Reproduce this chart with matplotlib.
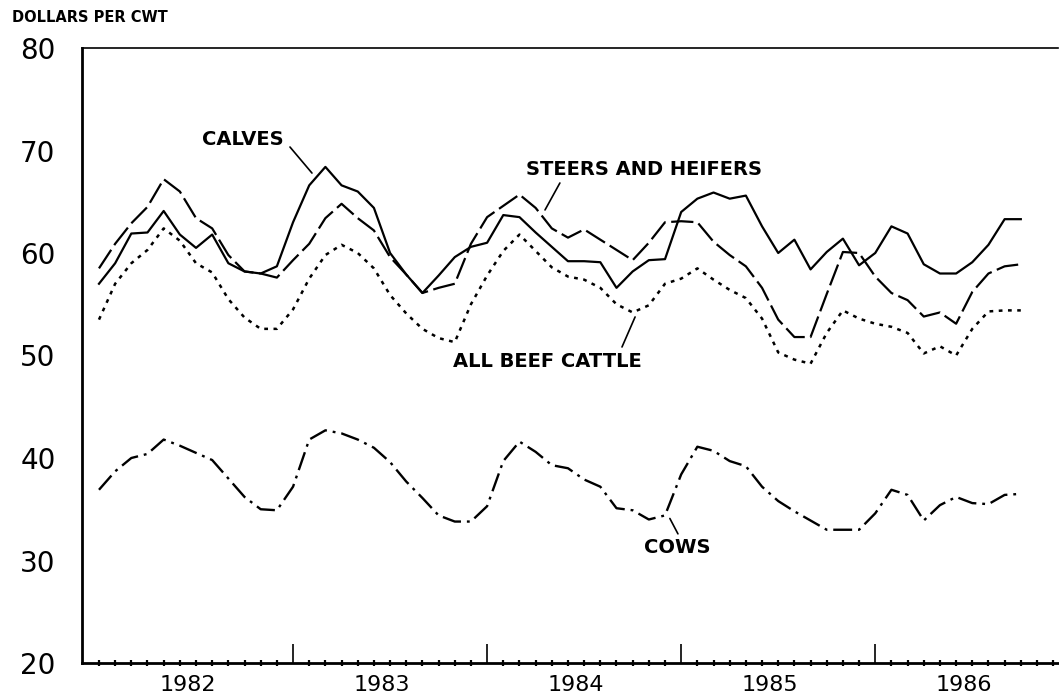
import numpy as np
import matplotlib
matplotlib.use('Agg')
import matplotlib.pyplot as plt

# monthly prices, Jan 1982 - Oct 1986, dollars per cwt
calves = [57.0, 59.0, 61.9, 62.0, 64.1, 61.8, 60.5, 61.8, 59.0, 58.2, 58.0, 58.7,
          63.0, 66.6, 68.4, 66.6, 66.0, 64.4, 60.0, 57.9, 56.1, 57.8, 59.6, 60.6,
          61.0, 63.7, 63.5, 62.0, 60.6, 59.2, 59.2, 59.1, 56.6, 58.2, 59.3, 59.4,
          64.0, 65.3, 65.9, 65.3, 65.6, 62.6, 60.0, 61.3, 58.4, 60.1, 61.4, 58.8,
          60.0, 62.6, 61.9, 58.9, 58.0, 58.0, 59.1, 60.8, 63.3, 63.3]
steers = [58.5, 60.9, 62.9, 64.5, 67.2, 66.0, 63.4, 62.4, 59.8, 58.2, 58.0, 57.6,
          59.3, 60.9, 63.4, 64.8, 63.4, 62.2, 59.6, 57.9, 56.1, 56.6, 57.0, 60.9,
          63.5, 64.6, 65.7, 64.4, 62.4, 61.5, 62.3, 61.3, 60.3, 59.3, 61.0, 63.0,
          63.1, 63.0, 61.1, 59.8, 58.7, 56.6, 53.5, 51.8, 51.8, 56.0, 60.1, 60.0,
          57.7, 56.1, 55.4, 53.8, 54.2, 53.1, 56.2, 58.0, 58.7, 58.9]
beef = [53.5, 57.0, 59.0, 60.3, 62.4, 61.2, 59.0, 58.1, 55.5, 53.7, 52.6, 52.6,
        54.5, 57.5, 59.8, 60.8, 60.0, 58.5, 55.9, 54.1, 52.6, 51.7, 51.3, 55.0,
        57.8, 60.2, 61.8, 60.2, 58.6, 57.7, 57.4, 56.6, 55.0, 54.2, 54.9, 57.0,
        57.5, 58.5, 57.4, 56.4, 55.6, 53.6, 50.3, 49.6, 49.2, 52.2, 54.4, 53.6,
        53.1, 52.8, 52.2, 50.2, 50.9, 50.0, 52.6, 54.3, 54.4, 54.4]
cows = [36.9, 38.7, 40.0, 40.4, 41.8, 41.2, 40.5, 39.8, 38.0, 36.2, 35.0, 34.9,
        37.2, 41.8, 42.7, 42.4, 41.8, 41.0, 39.6, 37.7, 36.1, 34.4, 33.8, 33.8,
        35.3, 39.7, 41.6, 40.6, 39.3, 39.0, 37.9, 37.2, 35.1, 34.9, 34.0, 34.4,
        38.4, 41.1, 40.7, 39.7, 39.2, 37.2, 35.8, 34.8, 33.9, 33.0, 33.0, 33.0,
        34.6, 36.9, 36.4, 33.9, 35.4, 36.2, 35.6, 35.5, 36.4, 36.5]
years = ['1982', '1983', '1984', '1985', '1986']
y_ticks = [20, 30, 40, 50, 60, 70, 80]

x = np.arange(len(calves))

fig = plt.figure(figsize=(10.59, 6.97), dpi=100)
ax = fig.add_axes([82 / 1059, 34 / 697, 976 / 1059, 615 / 697])

ax.plot(x, calves, color='black', lw=1.6, ls='-')
ax.plot(x, steers, color='black', lw=1.6, ls=(0, (10, 2.5)))
ax.plot(x, beef, color='black', lw=1.8, ls=(0, (1.5, 2.2)))
ax.plot(x, cows, color='black', lw=1.7, ls=(0, (8, 2.5, 1.2, 2.5)))

ax.set_xlim(-1.05, 59.3)
ax.set_ylim(20, 80)

ax.spines['right'].set_visible(False)
ax.spines['left'].set_linewidth(2.0)
ax.spines['bottom'].set_linewidth(2.0)
ax.spines['top'].set_linewidth(1.2)

# month ticks on the time axis, year boundaries taller
year_edges = [12 * k for k in range(1, len(years))]
months = [m for m in range(60) if m not in year_edges]
ax.set_xticks(year_edges)
ax.set_xticks(months, minor=True)
ax.tick_params(axis='x', which='major', direction='in', length=13.5, width=1.2, labelbottom=False)
ax.tick_params(axis='x', which='minor', direction='inout', length=4.5, width=1.6)
for k, yr in enumerate(years):
    ax.text(12 * k + 5.5, -0.036, yr, transform=ax.get_xaxis_transform(),
            ha='center', va='center', fontsize=16, family='DejaVu Sans')

ax.set_yticks(y_ticks)
ax.set_yticklabels([str(v) for v in y_ticks])
ax.tick_params(axis='y', length=0, pad=19, labelsize=20)

fig.text(12 / 1059, 1 - 18 / 697, 'DOLLARS PER CWT', ha='left', va='center',
         fontsize=10.5, fontweight='bold')

# labels with leader lines
lab = dict(fontsize=14, fontweight='bold', ha='center', va='center')
line = dict(arrowstyle='-', color='black', lw=1.2, shrinkA=0, shrinkB=0)
ax.text(8.9, 71.1, 'CALVES', **lab)
ax.annotate('', xy=(13.17, 67.8), xytext=(11.81, 70.34), arrowprops=line)
ax.text(33.7, 68.1, 'STEERS AND HEIFERS', **lab)
ax.annotate('', xy=(27.58, 64.2), xytext=(28.5, 66.83), arrowprops=line)
ax.text(27.7, 49.46, 'ALL BEEF CATTLE', **lab)
ax.annotate('', xy=(33.15, 53.76), xytext=(32.34, 50.83), arrowprops=line)
ax.text(35.75, 31.3, 'COWS', **lab)
ax.annotate('', xy=(35.3, 34.1), xytext=(35.8, 32.6), arrowprops=line)

plt.savefig('out.png', dpi=100)
